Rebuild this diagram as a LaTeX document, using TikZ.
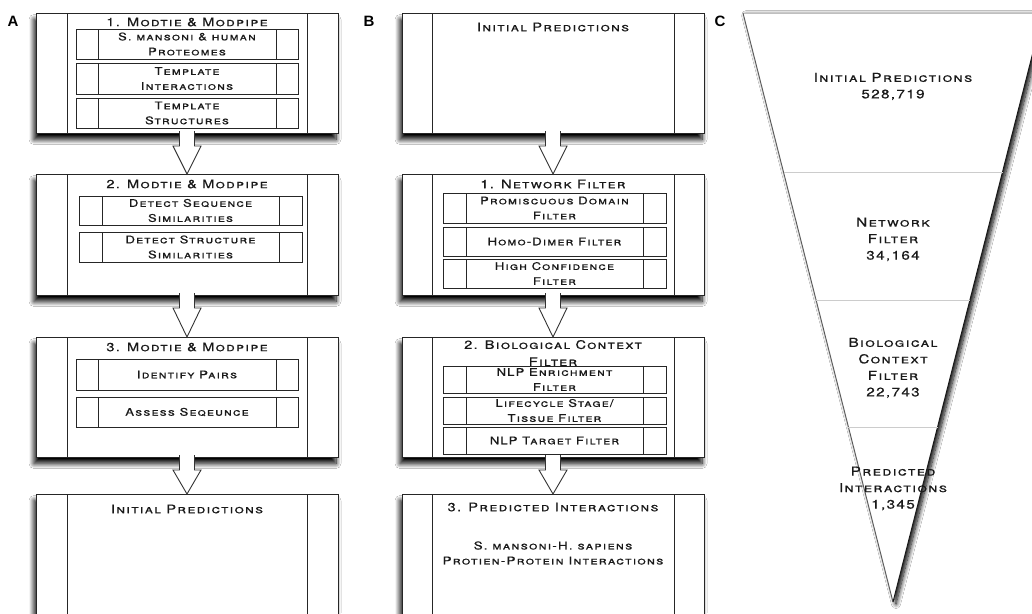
\documentclass[tikz,border=0pt]{standalone}
\usepackage{fontspec}
\setmainfont{TeX Gyre Heros}
\newfontfamily\scfont{TeX Gyre Heros}[Letters=SmallCaps, LetterSpace=11, FakeStretch=1.24, FakeBold=0.6]
\newfontfamily\lblfont{Liberation Sans}
\usetikzlibrary{calc,shadows.blur}
\newcommand\pbox[7]{% name, x1, y1, x2, y2, inset, style
  \node[#7, minimum width={(#4-#2)*1pt}, minimum height={(#5-#3)*1pt}] (#1) at ({(#2+#4)/2},{(#3+#5)/2}) {};
  \draw[boxline] ([xshift=#6pt]#1.north west) -- ([xshift=#6pt]#1.south west);
  \draw[boxline] ([xshift=-#6pt]#1.north east) -- ([xshift=-#6pt]#1.south east);
}
\newcommand\barrow[2]{%
  \draw[blockarrow] ($(#1.south)+(-7.5,-2)$) -- ($(#1.south)+(-7.5,13)$) -- ($(#1.south)+(-14,13)$) -- (#2.north)
    -- ($(#1.south)+(14,13)$) -- ($(#1.south)+(7.5,13)$) -- ($(#1.south)+(7.5,-2)$);
}
\begin{document}
\begin{tikzpicture}[x=1pt,y=-1pt,
  boxline/.style={draw=black!85, line width=1pt},
  outerbox/.style={draw=black!85, line width=1pt, fill=white, inner sep=0pt, outer sep=0pt,
    blur shadow={shadow xshift=-2pt, shadow yshift=-6.5pt, shadow blur steps=10, shadow blur radius=5pt, shadow opacity=100}},
  subbox/.style={draw=black!85, line width=1pt, fill=white, inner sep=0pt, outer sep=0pt},
  blockarrow/.style={draw=black!80, line width=0.9pt, fill=white, line join=miter},
  ttl/.style={font=\scfont\fontsize{11.8}{13}\selectfont, text=black!90, inner sep=0pt, align=center},
  sub/.style={font=\scfont\fontsize{10.5}{15}\selectfont, text=black!90, inner sep=0pt, align=center},
  ftxt/.style={font=\scfont\fontsize{12.3}{16.5}\selectfont, text=black!90, inner sep=0pt, align=center},
  lbl/.style={font=\lblfont\bfseries\fontsize{15}{15}\selectfont, inner sep=0pt}
]
\useasboundingbox (0,0) rectangle (1032,613);
\clip (0,0) rectangle (1032,613);
\fill[white] (0,0) rectangle (1032,613);

% labels
\node[lbl] (la) at (13,21) {A};
\node[lbl] (lb) at (369,21) {B};
\node[lbl] (lc) at (720,21) {C};

% ---------- Panel A ----------
\pbox{a1}{36}{13}{338}{133}{31}{outerbox}
\pbox{a2}{36}{174}{338}{295}{31}{outerbox}
\pbox{a3}{36}{337}{338}{457}{31}{outerbox}
\pbox{a4}{36}{494}{338}{640}{31}{outerbox}
\barrow{a1}{a2}
\barrow{a2}{a3}
\barrow{a3}{a4}

\node[ttl] (a1t) at (187,22) {1. Modtie \& Modpipe};
\pbox{a1s1}{76}{29}{298}{59}{22}{subbox}
\pbox{a1s2}{76}{63}{298}{94}{22}{subbox}
\pbox{a1s3}{76}{98}{298}{128}{22}{subbox}
\node[sub] (a1s1t) at (a1s1) {S. mansoni \& human\\Proteomes};
\node[sub] (a1s2t) at (a1s2) {Template\\Interactions};
\node[sub] (a1s3t) at (a1s3) {Template\\Structures};

\node[ttl] (a2t) at (187,184) {2. Modtie \& Modpipe};
\pbox{a2s1}{79}{196}{302}{225}{23}{subbox}
\pbox{a2s2}{79}{232}{302}{262}{23}{subbox}
\node[sub] (a2s1t) at (a2s1) {Detect Sequence\\Similarities};
\node[sub] (a2s2t) at (a2s2) {Detect Structure\\Similarities};

\node[ttl] (a3t) at (187,347) {3. Modtie \& Modpipe};
\pbox{a3s1}{76}{359}{298}{390}{22}{subbox}
\pbox{a3s2}{76}{397}{298}{427}{22}{subbox}
\node[sub] (a3s1t) at (a3s1) {Identify Pairs};
\node[sub] (a3s2t) at (a3s2) {Assess Seqeunce};

\node[ttl] (a4t) at (187,509) {Initial Predictions};

% ---------- Panel B ----------
\pbox{b1}{402}{13}{704}{133}{30}{outerbox}
\pbox{b2}{402}{174}{704}{295}{30}{outerbox}
\pbox{b3}{402}{337}{704}{457}{30}{outerbox}
\pbox{b4}{402}{494}{704}{640}{30}{outerbox}
\barrow{b1}{b2}
\barrow{b2}{b3}
\barrow{b3}{b4}

\node[ttl] (b1t) at (553,27) {Initial Predictions};

\node[ttl] (b2t) at (553,184) {1. Network Filter};
\pbox{b2s1}{443}{193}{666}{223}{23}{subbox}
\pbox{b2s2}{443}{227}{666}{256}{23}{subbox}
\pbox{b2s3}{443}{259}{666}{288}{23}{subbox}
\node[sub] (b2s1t) at (b2s1) {Promiscuous Domain\\Filter};
\node[sub] (b2s2t) at (b2s2) {Homo-Dimer Filter};
\node[sub] (b2s3t) at (b2s3) {High Confidence\\Filter};

\node[ttl, font=\scfont\fontsize{11.8}{17}\selectfont] (b3t) at (553,353) {2. Biological Context\\Filter};
\pbox{b3s1}{443}{366}{666}{393}{23}{subbox}
\pbox{b3s2}{443}{397}{666}{424}{23}{subbox}
\pbox{b3s3}{443}{427}{666}{454}{23}{subbox}
\node[sub] (b3s1t) at (b3s1) {NLP Enrichment\\Filter};
\node[sub] (b3s2t) at (b3s2) {Lifecycle Stage/\\Tissue Filter};
\node[sub] (b3s3t) at (b3s3) {NLP Target Filter};

\node[ttl] (b4t) at (553,507) {3. Predicted Interactions};
\node[ttl, font=\scfont\fontsize{10.8}{15}\selectfont] (b4s) at (553,553) {S. mansoni-H. sapiens\\Protien-Protein Interactions};

% ---------- Panel C ----------
\coordinate (ftl) at (743,13);
\coordinate (ftr) at (1043,13);
\coordinate (ftip) at (893,602);
\path[fill=white, blur shadow={shadow xshift=3pt, shadow yshift=-2pt, shadow blur steps=10, shadow blur radius=4.5pt, shadow opacity=100}] (ftl) -- (ftr) -- (ftip) -- cycle;
\draw[black!25, line width=0.8pt] (ftl) -- (ftr);
\draw[black!65, line width=0.9pt] (ftl) -- (ftip);
\draw[black!90, line width=1pt] (ftr) -- (ftip);
\draw[black!20, line width=1pt] ($(ftl)!0.27!(ftip)$) -- ($(ftr)!0.27!(ftip)$);
\draw[black!20, line width=1pt] ($(ftl)!0.4873!(ftip)$) -- ($(ftr)!0.4873!(ftip)$);
\draw[black!20, line width=1pt] ($(ftl)!0.7029!(ftip)$) -- ($(ftr)!0.7029!(ftip)$);

\node[ftxt] (c1) at (893,86.5) {Initial Predictions\\528,719};
\node[ftxt] (c2) at (893,239.5) {Network\\Filter\\34,164};
\node[ftxt] (c3) at (893,368) {Biological\\Context\\Filter\\22,743};
\node[ftxt] (c4) at (893,488.5) {Predicted\\Interactions\\1,345};
\end{tikzpicture}
\end{document}
